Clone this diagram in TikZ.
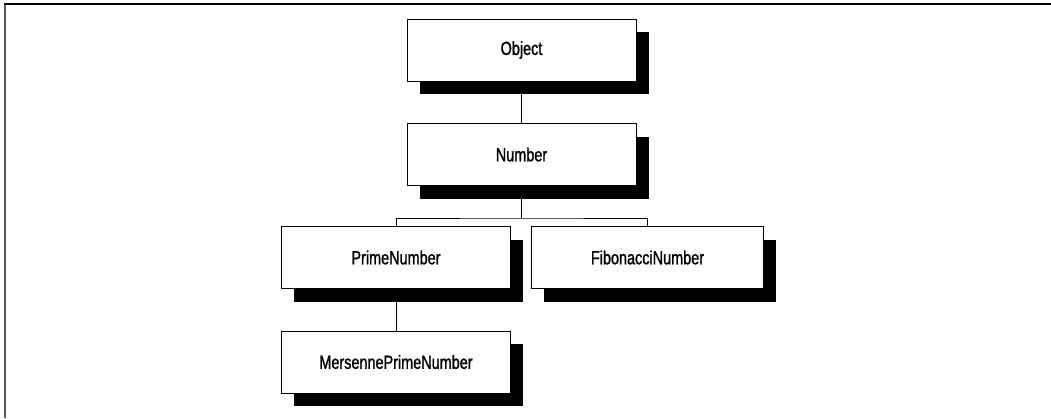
\documentclass[tikz,border=0pt]{standalone}
\usepackage{fontspec}
\newfontfamily\boxfont{Liberation Sans}[FakeStretch=0.76,FakeBold=1.2]
\usetikzlibrary{shadows}
\begin{document}
\begin{tikzpicture}[x=1pt,y=-1pt,
  classbox/.style={draw=black, line width=1pt, fill=white, rectangle,
    minimum width=229pt, minimum height=62pt, inner sep=0pt,
    font=\boxfont\fontsize{19}{21}\selectfont,
    drop shadow={shadow xshift=12.5pt, shadow yshift=-13pt, fill=black, opacity=1}},
  link/.style={draw=black, line width=0.9pt}]
\useasboundingbox (0,0) rectangle (1051,418);
\draw[line width=2pt, gray!70!black] (5,418) -- (5,4);
\draw[line width=2pt, black] (4,4) -- (1051,4);
\coordinate (split) at (521.5,218);
\node[classbox] (obj) at (521.5,50) {Object};
\node[classbox] (num) at (521.5,154.5) {Number};
\node[classbox] (prime) at (396,257.5) {PrimeNumber};
\node[classbox, minimum width=232pt] (fib) at (647.5,257.5) {FibonacciNumber};
\node[classbox] (mers) at (396,362) {MersennePrimeNumber};
\draw[link] (obj.south) -- (num.north);
\draw[link] (num.south) -- (split);
\draw[link] (prime.north) |- (split) -| (fib.north);
\draw[link] (prime.south) -- (mers.north);
\end{tikzpicture}
\end{document}
